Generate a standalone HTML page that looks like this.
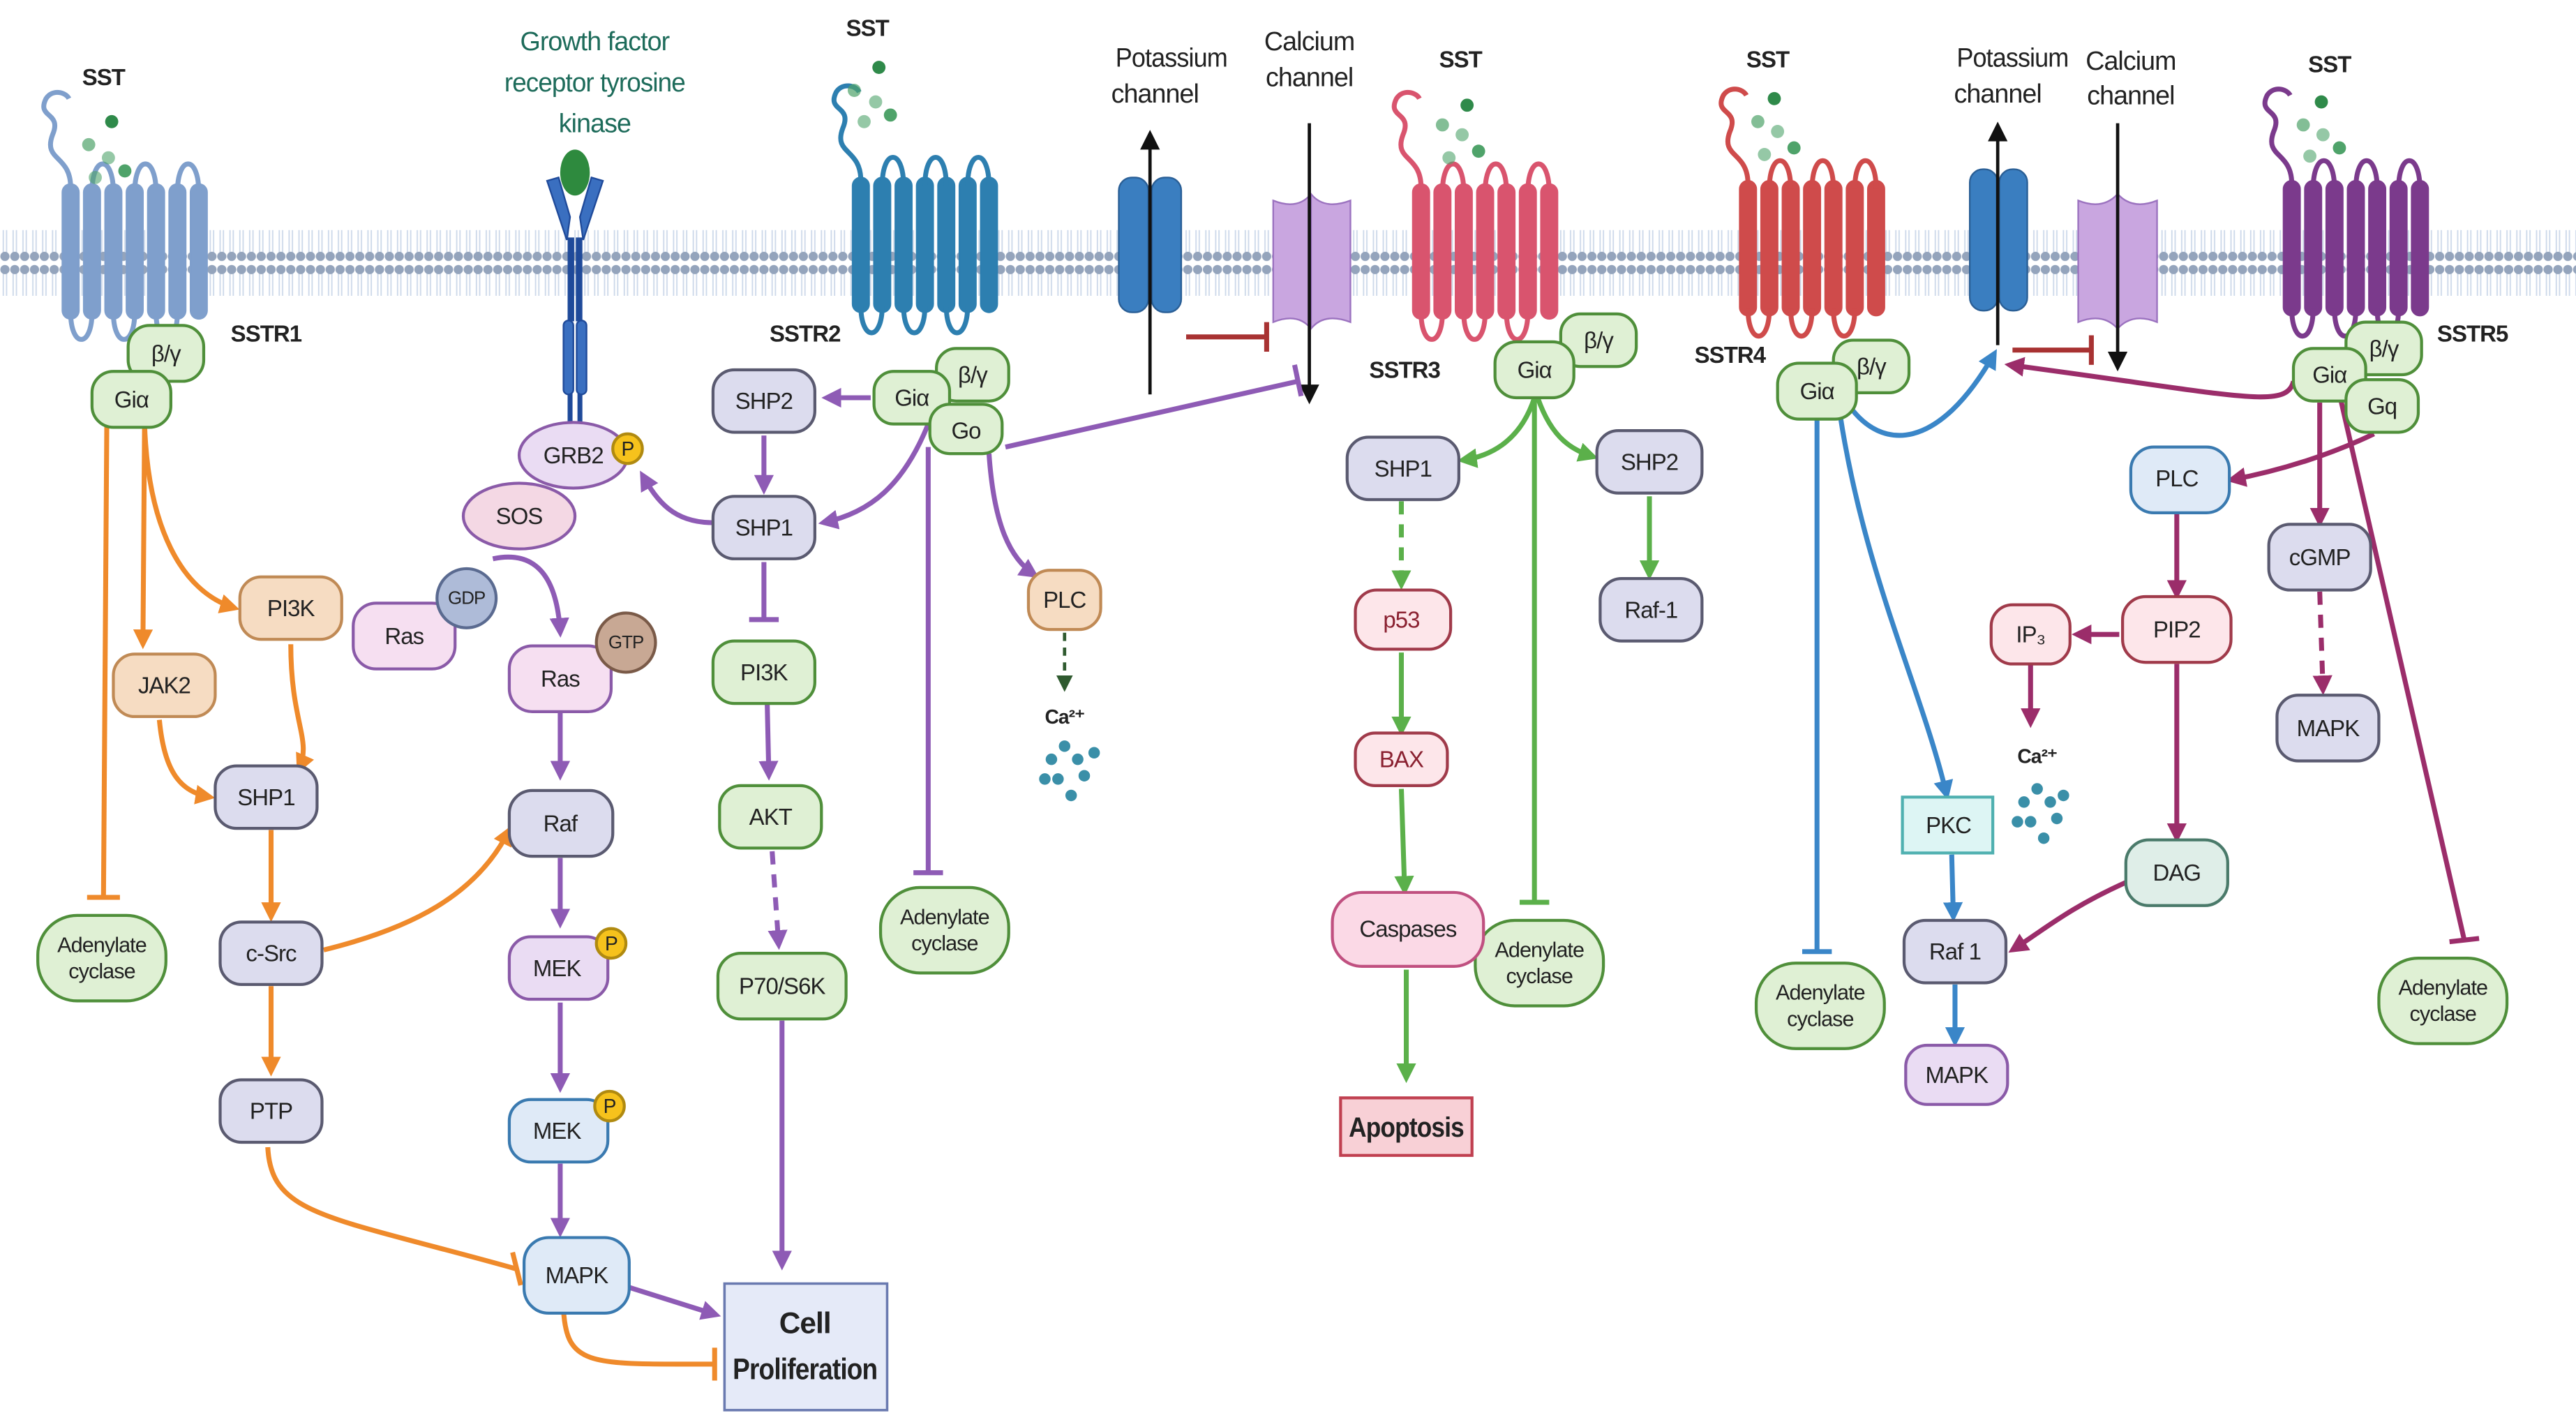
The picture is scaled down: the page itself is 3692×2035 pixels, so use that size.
<!DOCTYPE html>
<html><head><meta charset="utf-8">
<style>
html,body{margin:0;padding:0;background:#fff;}
svg{display:block;}
text{font-family:"Liberation Sans Narrow","Liberation Sans",sans-serif;font-size:14px;fill:#222;text-anchor:middle;dominant-baseline:central;letter-spacing:-0.4px;}
.b{font-weight:bold;}
</style></head><body>
<svg width="3692" height="2035" viewBox="0 0 1568 864" preserveAspectRatio="none" xmlns="http://www.w3.org/2000/svg">
<defs>
<pattern id="mem" width="6" height="40" patternUnits="userSpaceOnUse">
<line x1="2" y1="5" x2="2" y2="35" stroke="#cdd9ea" stroke-width="0.8"/>
<line x1="4" y1="5" x2="4" y2="35" stroke="#cdd9ea" stroke-width="0.8"/>
<circle cx="3" cy="4" r="2.8" fill="#94a4bc"/>
<circle cx="3" cy="36" r="2.8" fill="#94a4bc"/>
</pattern>
<g id="rcpt">
<rect x="0" y="0" width="10" height="82" rx="5"/>
<rect x="13" y="0" width="10" height="82" rx="5"/>
<rect x="26" y="0" width="10" height="82" rx="5"/>
<rect x="39" y="0" width="10" height="82" rx="5"/>
<rect x="52" y="0" width="10" height="82" rx="5"/>
<rect x="65" y="0" width="10" height="82" rx="5"/>
<rect x="78" y="0" width="10" height="82" rx="5"/>
<g fill="none" stroke-width="3">
<path d="M18 5 C18 -18 31 -18 31 5"/><path d="M44 5 C44 -18 57 -18 57 5"/><path d="M70 5 C70 -18 83 -18 83 5"/>
<path d="M5 78 C5 100 18 100 18 78"/><path d="M31 78 C31 100 44 100 44 78"/><path d="M57 78 C57 100 70 100 70 78"/>
<path d="M5 2 C5 -18 -12 -14 -6 -30 C0 -44 -16 -40 -10 -52 C-6 -58 2 -56 4 -52"/>
</g>
</g>
<marker id="ao" markerWidth="12" markerHeight="12" refX="9" refY="6" orient="auto" markerUnits="userSpaceOnUse"><path d="M0 0 L12 6 L0 12 z" fill="#ef8a2b"/></marker>
<marker id="ap" markerWidth="12" markerHeight="12" refX="9" refY="6" orient="auto" markerUnits="userSpaceOnUse"><path d="M0 0 L12 6 L0 12 z" fill="#8e5bb5"/></marker>
<marker id="ag" markerWidth="12" markerHeight="12" refX="9" refY="6" orient="auto" markerUnits="userSpaceOnUse"><path d="M0 0 L12 6 L0 12 z" fill="#5bb04a"/></marker>
<marker id="ab" markerWidth="12" markerHeight="12" refX="9" refY="6" orient="auto" markerUnits="userSpaceOnUse"><path d="M0 0 L12 6 L0 12 z" fill="#3a86c8"/></marker>
<marker id="am" markerWidth="12" markerHeight="12" refX="9" refY="6" orient="auto" markerUnits="userSpaceOnUse"><path d="M0 0 L12 6 L0 12 z" fill="#9b2d6a"/></marker>
<marker id="ak" markerWidth="12" markerHeight="12" refX="9" refY="6" orient="auto" markerUnits="userSpaceOnUse"><path d="M0 0 L12 6 L0 12 z" fill="#111"/></marker>
<marker id="ad" markerWidth="10" markerHeight="10" refX="7" refY="5" orient="auto" markerUnits="userSpaceOnUse"><path d="M0 0 L10 5 L0 10 z" fill="#2f5a2f"/></marker>
</defs>
<rect width="1568" height="864" fill="#fff"/>
<rect x="0" y="140" width="1568" height="40" fill="url(#mem)"/>

<!-- receptors -->
<use href="#rcpt" transform="translate(38,112)" fill="#7f9fcc" stroke="#7f9fcc"/>
<use href="#rcpt" transform="translate(519,108)" fill="#2d7fb0" stroke="#2d7fb0"/>
<use href="#rcpt" transform="translate(860,112)" fill="#d9546e" stroke="#d9546e"/>
<use href="#rcpt" transform="translate(1059,110)" fill="#cf4b4b" stroke="#cf4b4b"/>
<use href="#rcpt" transform="translate(1390,110)" fill="#7b3a8c" stroke="#7b3a8c"/>

<!-- ligand dots -->
<g fill="#4fa36a">
<circle cx="68" cy="74" r="4" fill="#2f8a4a"/><circle cx="54" cy="88" r="4" opacity=".7"/><circle cx="66" cy="96" r="4" opacity=".6"/><circle cx="76" cy="104" r="4"/><circle cx="58" cy="108" r="4" opacity=".6"/>
<circle cx="535" cy="41" r="4" fill="#2f8a4a"/><circle cx="520" cy="55" r="4" opacity=".7"/><circle cx="533" cy="62" r="4" opacity=".6"/><circle cx="542" cy="70" r="4"/><circle cx="526" cy="74" r="4" opacity=".6"/>
<circle cx="893" cy="64" r="4" fill="#2f8a4a"/><circle cx="878" cy="76" r="4" opacity=".7"/><circle cx="890" cy="82" r="4" opacity=".6"/><circle cx="900" cy="92" r="4"/><circle cx="882" cy="96" r="4" opacity=".6"/>
<circle cx="1080" cy="60" r="4" fill="#2f8a4a"/><circle cx="1070" cy="74" r="4" opacity=".7"/><circle cx="1082" cy="80" r="4" opacity=".6"/><circle cx="1092" cy="90" r="4"/><circle cx="1074" cy="94" r="4" opacity=".6"/>
<circle cx="1413" cy="62" r="4" fill="#2f8a4a"/><circle cx="1402" cy="76" r="4" opacity=".7"/><circle cx="1414" cy="82" r="4" opacity=".6"/><circle cx="1424" cy="90" r="4"/><circle cx="1406" cy="95" r="4" opacity=".6"/>
</g>

<!-- labels -->
<text x="63" y="47" class="b">SST</text>
<text x="528" y="17" class="b">SST</text>
<text x="889" y="36" class="b">SST</text>
<text x="1076" y="36" class="b">SST</text>
<text x="1418" y="39" class="b">SST</text>
<text x="162" y="203" class="b">SSTR1</text>
<text x="490" y="203" class="b">SSTR2</text>
<text x="855" y="225" class="b">SSTR3</text>
<text x="1053" y="216" class="b">SSTR4</text>
<text x="1505" y="203" class="b">SSTR5</text>
<text x="362" y="25" style="fill:#1d6b5a;font-size:16px">Growth factor</text><text x="362" y="50" style="fill:#1d6b5a;font-size:16px" textLength="110" lengthAdjust="spacingAndGlyphs">receptor tyrosine</text><text x="362" y="75" style="fill:#1d6b5a;font-size:16px">kinase</text>
<text x="713" y="35" style="font-size:16px" textLength="68" lengthAdjust="spacingAndGlyphs">Potassium</text><text x="703" y="57" style="font-size:16px">channel</text>
<text x="797" y="25" style="font-size:16px">Calcium</text><text x="797" y="47" style="font-size:16px">channel</text>
<text x="1225" y="35" style="font-size:16px" textLength="68" lengthAdjust="spacingAndGlyphs">Potassium</text><text x="1216" y="57" style="font-size:16px">channel</text>
<text x="1297" y="37" style="font-size:16px">Calcium</text><text x="1297" y="58" style="font-size:16px">channel</text>

<!-- growth factor receptor -->
<g fill="#3a6fc0" stroke="#1f4a9a" stroke-width="1">
<path d="M333 110 L340 108 L347 132 L345 146 Z"/><path d="M367 110 L360 108 L353 132 L355 146 Z"/>
<rect x="346" y="145" width="3" height="50" fill="#1f4a9a"/><rect x="351" y="145" width="3" height="50" fill="#1f4a9a"/>
<rect x="343" y="195" width="6" height="45" rx="3"/><rect x="351" y="195" width="6" height="45" rx="3"/>
<rect x="346" y="240" width="2" height="16" fill="#1f4a9a"/><rect x="352" y="240" width="2" height="16" fill="#1f4a9a"/>
</g>
<ellipse cx="350" cy="105" rx="9" ry="14" fill="#2e8a3e"/>

<!-- channels -->
<rect x="681" y="108" width="18" height="82" rx="8" fill="#3a7ec0" stroke="#2a5f96"/>
<rect x="701" y="108" width="18" height="82" rx="8" fill="#3a7ec0" stroke="#2a5f96"/>
<path d="M775 122 Q790 128 798 118 Q806 128 822 122 L822 196 Q806 190 798 200 Q790 190 775 196 Z" fill="#c9a6e0" stroke="#9b72bf"/>
<line x1="798" y1="118" x2="798" y2="200" stroke="#9b72bf"/>
<line x1="700" y1="240" x2="700" y2="82" stroke="#111" stroke-width="2" marker-end="url(#ak)"/>
<line x1="797" y1="75" x2="797" y2="243" stroke="#111" stroke-width="2" marker-end="url(#ak)"/>
<line x1="722" y1="205" x2="770" y2="205" stroke="#a83232" stroke-width="3"/><line x1="771" y1="196" x2="771" y2="214" stroke="#a83232" stroke-width="3"/>

<rect x="1199" y="103" width="17" height="86" rx="8" fill="#3a7ec0" stroke="#2a5f96"/>
<rect x="1217" y="103" width="17" height="86" rx="8" fill="#3a7ec0" stroke="#2a5f96"/>
<path d="M1265 122 Q1280 128 1289 118 Q1298 128 1313 122 L1313 196 Q1298 190 1289 200 Q1280 190 1265 196 Z" fill="#c9a6e0" stroke="#9b72bf"/>
<line x1="1289" y1="118" x2="1289" y2="200" stroke="#9b72bf"/>
<line x1="1216" y1="210" x2="1216" y2="77" stroke="#111" stroke-width="2" marker-end="url(#ak)"/>
<line x1="1289" y1="75" x2="1289" y2="223" stroke="#111" stroke-width="2" marker-end="url(#ak)"/>
<line x1="1225" y1="213" x2="1272" y2="213" stroke="#a83232" stroke-width="3"/><line x1="1273" y1="204" x2="1273" y2="222" stroke="#a83232" stroke-width="3"/>

<!-- EDGES -->
<g fill="none" stroke-width="3">
<g stroke="#ef8a2b">
<path d="M65 258 L63 545"/><path d="M53 546 L73 546"/>
<path d="M88 258 C90 320 110 360 143 370" marker-end="url(#ao)"/>
<path d="M88 258 L87 392" marker-end="url(#ao)"/>
<path d="M97 438 C100 470 110 482 128 485" marker-end="url(#ao)"/>
<path d="M177 392 C177 440 190 450 182 468" marker-end="url(#ao)"/>
<path d="M165 505 L165 558" marker-end="url(#ao)"/>
<path d="M197 578 C250 565 290 545 310 505" marker-end="url(#ao)"/>
<path d="M165 600 L165 652" marker-end="url(#ao)"/>
<path d="M163 698 C165 740 200 740 314 772"/><path d="M312 762 L317 782"/>
<path d="M343 797 C345 832 360 830 435 830"/><path d="M435 820 L435 840"/>
</g>
<g stroke="#8e5bb5">
<path d="M300 340 Q338 332 341 385" marker-end="url(#ap)"/>
<path d="M341 433 L341 472" marker-end="url(#ap)"/>
<path d="M341 522 L341 562" marker-end="url(#ap)"/>
<path d="M341 610 L341 662" marker-end="url(#ap)"/>
<path d="M341 708 L341 750" marker-end="url(#ap)"/>
<path d="M382 783 L436 800" marker-end="url(#ap)"/>
<path d="M434 318 C410 318 400 305 391 289" marker-end="url(#ap)"/>
<path d="M465 265 L465 298" marker-end="url(#ap)"/>
<path d="M530 242 L503 242" marker-end="url(#ap)"/>
<path d="M465 342 L465 376"/><path d="M456 377 L474 377"/>
<path d="M467 428 L468 472" marker-end="url(#ap)"/>
<path d="M470 518 L474 575" stroke-dasharray="8 6" marker-end="url(#ap)"/>
<path d="M476 621 L476 770" marker-end="url(#ap)"/>
<path d="M565 258 C550 295 530 312 501 318" marker-end="url(#ap)"/>
<path d="M565 272 L565 530"/><path d="M556 531 L574 531"/>
<path d="M602 276 C605 320 615 340 630 350" marker-end="url(#ap)"/>
<path d="M612 272 L790 232"/><path d="M788 222 L792 241"/>
</g>
<path d="M648 385 L648 418" stroke="#2f5a2f" stroke-width="2" stroke-dasharray="5 4" marker-end="url(#ad)"/>
<g stroke="#5bb04a">
<path d="M934 242 C925 270 905 278 890 280" marker-end="url(#ag)"/>
<path d="M936 242 C945 268 958 274 970 278" marker-end="url(#ag)"/>
<path d="M934 242 L934 548"/><path d="M925 549 L943 549"/>
<path d="M853 305 L853 356" stroke-dasharray="8 6" marker-end="url(#ag)"/>
<path d="M853 397 L853 445" marker-end="url(#ag)"/>
<path d="M853 480 L855 542" marker-end="url(#ag)"/>
<path d="M856 590 L856 656" marker-end="url(#ag)"/>
<path d="M1004 302 L1004 350" marker-end="url(#ag)"/>
</g>
<g stroke="#3a86c8">
<path d="M1106 255 L1106 578"/><path d="M1097 579 L1115 579"/>
<path d="M1120 252 C1135 350 1170 420 1185 484" marker-end="url(#ab)"/>
<path d="M1125 246 C1145 275 1180 275 1214 215" marker-end="url(#ab)"/>
<path d="M1188 520 L1189 558" marker-end="url(#ab)"/>
<path d="M1190 599 L1190 634" marker-end="url(#ab)"/>
</g>
<g stroke="#9b2d6a">
<path d="M1396 232 C1392 250 1360 240 1223 222" marker-end="url(#am)"/>
<path d="M1445 264 C1420 276 1390 286 1358 292" marker-end="url(#am)"/>
<path d="M1412 245 L1412 318" marker-end="url(#am)"/>
<path d="M1412 360 L1414 420" stroke-dasharray="8 6" marker-end="url(#am)"/>
<path d="M1425 244 L1500 572"/><path d="M1491 573 L1509 571"/>
<path d="M1325 312 L1325 362" marker-end="url(#am)"/>
<path d="M1290 386 L1264 386" marker-end="url(#am)"/>
<path d="M1236 402 L1236 440" marker-end="url(#am)"/>
<path d="M1325 404 L1325 510" marker-end="url(#am)"/>
<path d="M1296 536 C1260 552 1245 565 1225 578" marker-end="url(#am)"/>
</g>
</g>

<g fill="#3a8fa8">
<circle cx="648" cy="454" r="3.5"/><circle cx="640" cy="462" r="3.5"/><circle cx="656" cy="462" r="3.5"/><circle cx="666" cy="458" r="3.5"/><circle cx="644" cy="474" r="3.5"/><circle cx="660" cy="472" r="3.5"/><circle cx="652" cy="484" r="3.5"/><circle cx="636" cy="474" r="3.5"/>
<circle cx="1240" cy="480" r="3.5"/><circle cx="1232" cy="488" r="3.5"/><circle cx="1248" cy="488" r="3.5"/><circle cx="1256" cy="484" r="3.5"/><circle cx="1236" cy="500" r="3.5"/><circle cx="1252" cy="498" r="3.5"/><circle cx="1244" cy="510" r="3.5"/><circle cx="1228" cy="500" r="3.5"/>
</g>
<text x="648" y="436" class="b" style="font-size:12px">Ca²⁺</text>
<text x="1240" y="460" class="b" style="font-size:12px">Ca²⁺</text>

<!-- NODES -->
<g stroke-width="1.8">
<g fill="#dff0d4" stroke="#4f8f3a">
<rect x="78" y="198" width="46" height="34" rx="13"/><rect x="56" y="226" width="48" height="34" rx="13"/>
<rect x="570" y="212" width="44" height="32" rx="12"/><rect x="532" y="226" width="46" height="32" rx="12"/><rect x="566" y="246" width="44" height="30" rx="12"/>
<rect x="950" y="191" width="46" height="32" rx="12"/><rect x="910" y="208" width="48" height="34" rx="13"/>
<rect x="1116" y="207" width="46" height="32" rx="12"/><rect x="1082" y="221" width="48" height="34" rx="13"/>
<rect x="1428" y="196" width="46" height="32" rx="12"/><rect x="1396" y="212" width="44" height="32" rx="12"/><rect x="1428" y="231" width="44" height="32" rx="12"/>
</g>
<g fill="#f6dcc2" stroke="#c08a55">
<rect x="146" y="351" width="62" height="38" rx="13"/><rect x="69" y="398" width="62" height="38" rx="13"/><rect x="626" y="347" width="44" height="36" rx="13"/>
</g>
<g fill="#dcdcee" stroke="#5a5a70">
<rect x="131" y="466" width="62" height="38" rx="13"/><rect x="134" y="561" width="62" height="38" rx="13"/><rect x="134" y="657" width="62" height="38" rx="13"/>
<rect x="310" y="481" width="63" height="40" rx="14"/>
<rect x="434" y="225" width="62" height="38" rx="13"/><rect x="434" y="302" width="62" height="38" rx="13"/>
<rect x="820" y="266" width="68" height="38" rx="13"/><rect x="972" y="262" width="64" height="38" rx="13"/><rect x="974" y="352" width="62" height="38" rx="13"/>
<rect x="1159" y="560" width="62" height="38" rx="13"/>
<rect x="1381" y="319" width="62" height="40" rx="13"/><rect x="1386" y="423" width="62" height="40" rx="13"/>
</g>
<g fill="#eadcf3" stroke="#8a5aa8">
<ellipse cx="349" cy="277" rx="33" ry="20"/><rect x="310" y="570" width="60" height="38" rx="13"/><rect x="1160" y="636" width="62" height="36" rx="13"/>
</g>
<g fill="#f4d8e4" stroke="#8a5aa8"><ellipse cx="316" cy="314" rx="34" ry="20"/></g>
<g fill="#f6dff1" stroke="#8a5aa8">
<rect x="215" y="367" width="62" height="40" rx="14"/><rect x="310" y="393" width="62" height="40" rx="14"/>
</g>
<circle cx="284" cy="364" r="18" fill="#aebbd8" stroke="#5a6a90"/>
<circle cx="381" cy="391" r="18" fill="#c8a894" stroke="#7a5a48"/>
<g fill="#dfeaf7" stroke="#3a7ab0">
<rect x="310" y="669" width="60" height="38" rx="13"/><rect x="319" y="753" width="64" height="46" rx="15"/>
</g>
<g fill="#dff0d4" stroke="#4f8f3a">
<rect x="434" y="390" width="62" height="38" rx="13"/><rect x="438" y="478" width="62" height="38" rx="13"/><rect x="437" y="580" width="78" height="40" rx="14"/>
<rect x="23" y="557" width="78" height="52" rx="24"/><rect x="536" y="540" width="78" height="52" rx="24"/><rect x="898" y="560" width="78" height="52" rx="24"/>
<rect x="1069" y="586" width="78" height="52" rx="24"/><rect x="1448" y="583" width="78" height="52" rx="24"/>
</g>
<g fill="#fde6ea" stroke="#a03a4a">
<rect x="825" y="359" width="58" height="36" rx="13"/><rect x="825" y="446" width="56" height="32" rx="12"/>
<rect x="1212" y="368" width="48" height="36" rx="13"/><rect x="1292" y="363" width="66" height="40" rx="14"/>
</g>
<rect x="811" y="543" width="92" height="45" rx="18" fill="#fbd9e6" stroke="#c05080"/>
<rect x="1297" y="272" width="60" height="40" rx="14" fill="#dfeaf7" stroke="#3a7ab0"/>
<rect x="1294" y="511" width="62" height="40" rx="14" fill="#dfeee8" stroke="#4a7a6a"/>
<rect x="1158" y="485" width="55" height="34" fill="#ddf5f4" stroke="#4fb0b0"/>
<rect x="441" y="781" width="99" height="77" fill="#e5eaf8" stroke="#6a7ab0" stroke-width="1.5"/>
<rect x="816" y="668" width="80" height="35" fill="#f8d0d6" stroke="#c04050"/>
<g fill="#f6c21c" stroke="#b08a10">
<circle cx="382" cy="273" r="9"/><circle cx="372" cy="574" r="9"/><circle cx="371" cy="673" r="9"/>
</g>
</g>
<text x="382" y="273" style="font-size:12px">P</text><text x="372" y="574" style="font-size:12px">P</text><text x="371" y="673" style="font-size:12px">P</text>

<!-- node text -->
<text x="101" y="215">β/γ</text><text x="80" y="243">Giα</text>
<text x="592" y="228">β/γ</text><text x="555" y="242">Giα</text><text x="588" y="262">Go</text>
<text x="973" y="207">β/γ</text><text x="934" y="225">Giα</text>
<text x="1139" y="223">β/γ</text><text x="1106" y="238">Giα</text>
<text x="1451" y="212">β/γ</text><text x="1418" y="228">Giα</text><text x="1450" y="247">Gq</text>
<text x="177" y="370">PI3K</text><text x="100" y="417">JAK2</text><text x="648" y="365">PLC</text>
<text x="162" y="485">SHP1</text><text x="165" y="580">c-Src</text><text x="165" y="676">PTP</text>
<text x="341" y="501">Raf</text><text x="465" y="244">SHP2</text><text x="465" y="321">SHP1</text>
<text x="854" y="285">SHP1</text><text x="1004" y="281">SHP2</text><text x="1005" y="371">Raf-1</text>
<text x="1190" y="579">Raf 1</text><text x="1412" y="339">cGMP</text><text x="1417" y="443">MAPK</text>
<text x="349" y="277">GRB2</text><text x="339" y="589">MEK</text><text x="1191" y="654">MAPK</text>
<text x="316" y="314">SOS</text><text x="246" y="387">Ras</text><text x="341" y="413">Ras</text>
<text x="284" y="364" style="font-size:11px">GDP</text><text x="381" y="391" style="font-size:11px">GTP</text>
<text x="339" y="688">MEK</text><text x="351" y="776">MAPK</text>
<text x="465" y="409">PI3K</text><text x="469" y="497">AKT</text><text x="476" y="600">P70/S6K</text>
<text x="62" y="575" style="font-size:13px">Adenylate</text><text x="62" y="591" style="font-size:13px">cyclase</text>
<text x="575" y="558" style="font-size:13px">Adenylate</text><text x="575" y="574" style="font-size:13px">cyclase</text>
<text x="937" y="578" style="font-size:13px">Adenylate</text><text x="937" y="594" style="font-size:13px">cyclase</text>
<text x="1108" y="604" style="font-size:13px">Adenylate</text><text x="1108" y="620" style="font-size:13px">cyclase</text>
<text x="1487" y="601" style="font-size:13px">Adenylate</text><text x="1487" y="617" style="font-size:13px">cyclase</text>
<text x="853" y="377" style="fill:#8a2030">p53</text><text x="853" y="462" style="fill:#8a2030">BAX</text>
<text x="1236" y="386">IP₃</text><text x="1325" y="383">PIP2</text>
<text x="857" y="565">Caspases</text><text x="1325" y="291">PLC</text><text x="1325" y="531">DAG</text><text x="1186" y="502">PKC</text>
<text x="490" y="805" class="b" style="font-size:18px">Cell</text><text x="490" y="833" class="b" style="font-size:18px" textLength="88" lengthAdjust="spacingAndGlyphs">Proliferation</text>
<text x="856" y="686" class="b" style="font-size:17px" textLength="70" lengthAdjust="spacingAndGlyphs">Apoptosis</text>
</svg>
</body></html>
